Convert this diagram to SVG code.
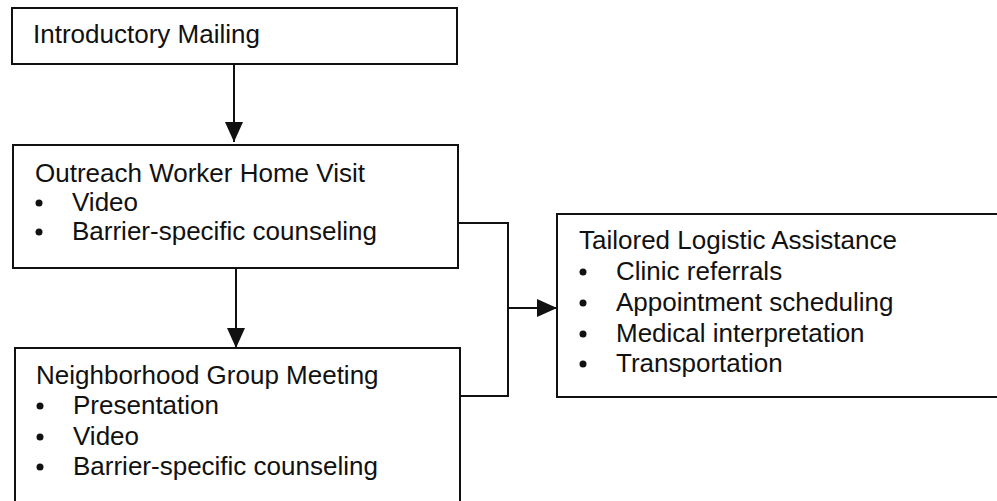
<svg xmlns="http://www.w3.org/2000/svg" width="997" height="501" viewBox="0 0 997 501">
<style>
.box{fill:#fff;stroke:#111;stroke-width:2}
.t{font-family:"Liberation Sans",Arial,sans-serif;font-size:26px;fill:#111}
.c{fill:none;stroke:#111;stroke-width:2}
.b{fill:#111}
</style>
<defs>
<marker id="ah" viewBox="0 0 20 18" refX="20" refY="9" markerWidth="20" markerHeight="18" markerUnits="userSpaceOnUse" orient="auto">
<path d="M0,0 L20,9 L0,18 Z" fill="#111"/>
</marker>
</defs>
<rect width="997" height="501" fill="#fff"/>
<g id="connectors">
<line class="c" x1="234" y1="64" x2="234" y2="142" marker-end="url(#ah)"/>
<line class="c" x1="236" y1="268" x2="236" y2="348" marker-end="url(#ah)"/>
<polyline class="c" points="457,223 508,223 508,396 460,396"/>
<line class="c" x1="508" y1="308" x2="557" y2="308" marker-end="url(#ah)"/>
</g>
<g id="introductory-mailing">
<rect class="box" x="12" y="8" width="445" height="56"/>
<text class="t" x="33" y="43">Introductory Mailing</text>
</g>
<g id="outreach-worker-home-visit">
<rect class="box" x="13" y="145" width="445" height="123"/>
<text class="t" x="35" y="182">Outreach Worker Home Visit</text>
<circle class="b" cx="39" cy="203" r="3.5"/>
<text class="t" x="72" y="211">Video</text>
<circle class="b" cx="39" cy="232" r="3.5"/>
<text class="t" x="72" y="240">Barrier-specific counseling</text>
</g>
<g id="neighborhood-group-meeting">
<rect class="box" x="15" y="348" width="445" height="170"/>
<text class="t" x="36" y="384">Neighborhood Group Meeting</text>
<circle class="b" cx="40" cy="406" r="3.5"/>
<text class="t" x="73" y="414">Presentation</text>
<circle class="b" cx="40" cy="437" r="3.5"/>
<text class="t" x="73" y="445">Video</text>
<circle class="b" cx="40" cy="467" r="3.5"/>
<text class="t" x="73" y="475">Barrier-specific counseling</text>
</g>
<g id="tailored-logistic-assistance">
<rect class="box" x="557" y="214" width="460" height="183"/>
<text class="t" x="579" y="249">Tailored Logistic Assistance</text>
<circle class="b" cx="583" cy="272" r="3.5"/>
<text class="t" x="616" y="280">Clinic referrals</text>
<circle class="b" cx="583" cy="303" r="3.5"/>
<text class="t" x="616" y="311">Appointment scheduling</text>
<circle class="b" cx="583" cy="334" r="3.5"/>
<text class="t" x="616" y="342">Medical interpretation</text>
<circle class="b" cx="583" cy="364" r="3.5"/>
<text class="t" x="616" y="372">Transportation</text>
</g>
</svg>
